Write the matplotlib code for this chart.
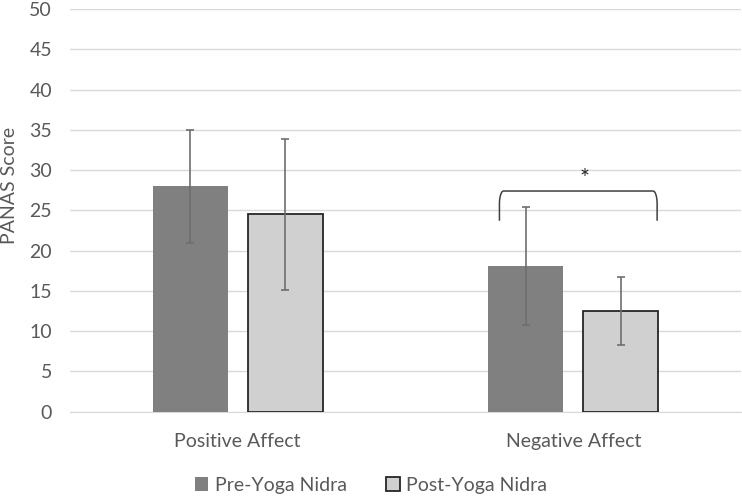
import matplotlib
matplotlib.use("Agg")
import matplotlib.pyplot as plt
import numpy as np

plt.rcParams['font.family'] = ['Lato', 'DejaVu Sans']

categories = ["Positive Affect", "Negative Affect"]
series = ["Pre-Yoga Nidra", "Post-Yoga Nidra"]
pre_mean = [28.0, 18.1]
pre_err = [7.0, 7.3]
post_mean = [24.5, 12.5]
post_err = [9.4, 4.25]
yticks = list(range(0, 51, 5))

# significance bracket on the negative affect pair
sig_x = [0.78, 1.25]
sig_y = [23.8, 27.4]
sig_label = "*"

W, H = 742, 498
fig = plt.figure(figsize=(W / 100, H / 100), dpi=100)
ax = fig.add_axes([70 / W, 1 - 411.7 / H, 671 / W, 402.7 / H])

x = np.arange(len(categories))
bw = 0.2235
off = bw / 2 + 0.03
ekw = dict(ecolor='#6e6e6e', elinewidth=1.2, capsize=3, capthick=1.2)

ax.bar(x - off, pre_mean, bw, yerr=pre_err, color='#808080', label=series[0],
       error_kw=ekw, zorder=3)
ax.bar(x + off, post_mean, bw, yerr=post_err, color='#d0d0d0', edgecolor='#262626',
       linewidth=1.3, label=series[1], error_kw=ekw, zorder=3)

# bracket with rounded corners
x0, x1 = sig_x
lo, hi = sig_y
t = np.linspace(0, np.pi / 2, 12)
rx, ry = 0.012, 1.6
left_x = x0 + rx * (1 - np.cos(t))
left_y = hi - ry + ry * np.sin(t)
bx = np.concatenate([[x0], left_x, (x0 + x1) - left_x[::-1], [x1]])
by = np.concatenate([[lo], left_y, left_y[::-1], [lo]])
ax.plot(bx, by, color='#404040', lw=1.1, zorder=4)
ax.text((x0 + x1) / 2 + 0.02, hi + 0.3, sig_label, ha='center', va='bottom',
        fontsize=17, color='#262626')

ax.set_xlim(-0.5, 1.5)
ax.set_ylim(0, 50)
ax.set_yticks(yticks)
ax.set_xticks(x)
ax.set_xticklabels(categories)
ax.grid(axis='y', color='#d9d9d9', lw=1, zorder=0)
ax.set_axisbelow(True)
for s in ['top', 'right', 'left']:
    ax.spines[s].set_visible(False)
ax.spines['bottom'].set_color('#d9d9d9')
ax.tick_params(axis='both', length=0, labelsize=14, labelcolor='#595959')
ax.tick_params(axis='x', pad=15)
ax.tick_params(axis='y', pad=13)
ax.set_ylabel("PANAS Score", fontsize=14, color='#595959')
ax.yaxis.set_label_coords(-52 / 671, 0.563)

fig.legend(loc='center', bbox_to_anchor=(0.5, 1 - 485 / H), ncol=2, frameon=False,
           fontsize=14, labelcolor='#595959', handlelength=0.7, handleheight=0.7,
           handletextpad=0.35, columnspacing=2.0)

fig.savefig("out.png", dpi=100)
